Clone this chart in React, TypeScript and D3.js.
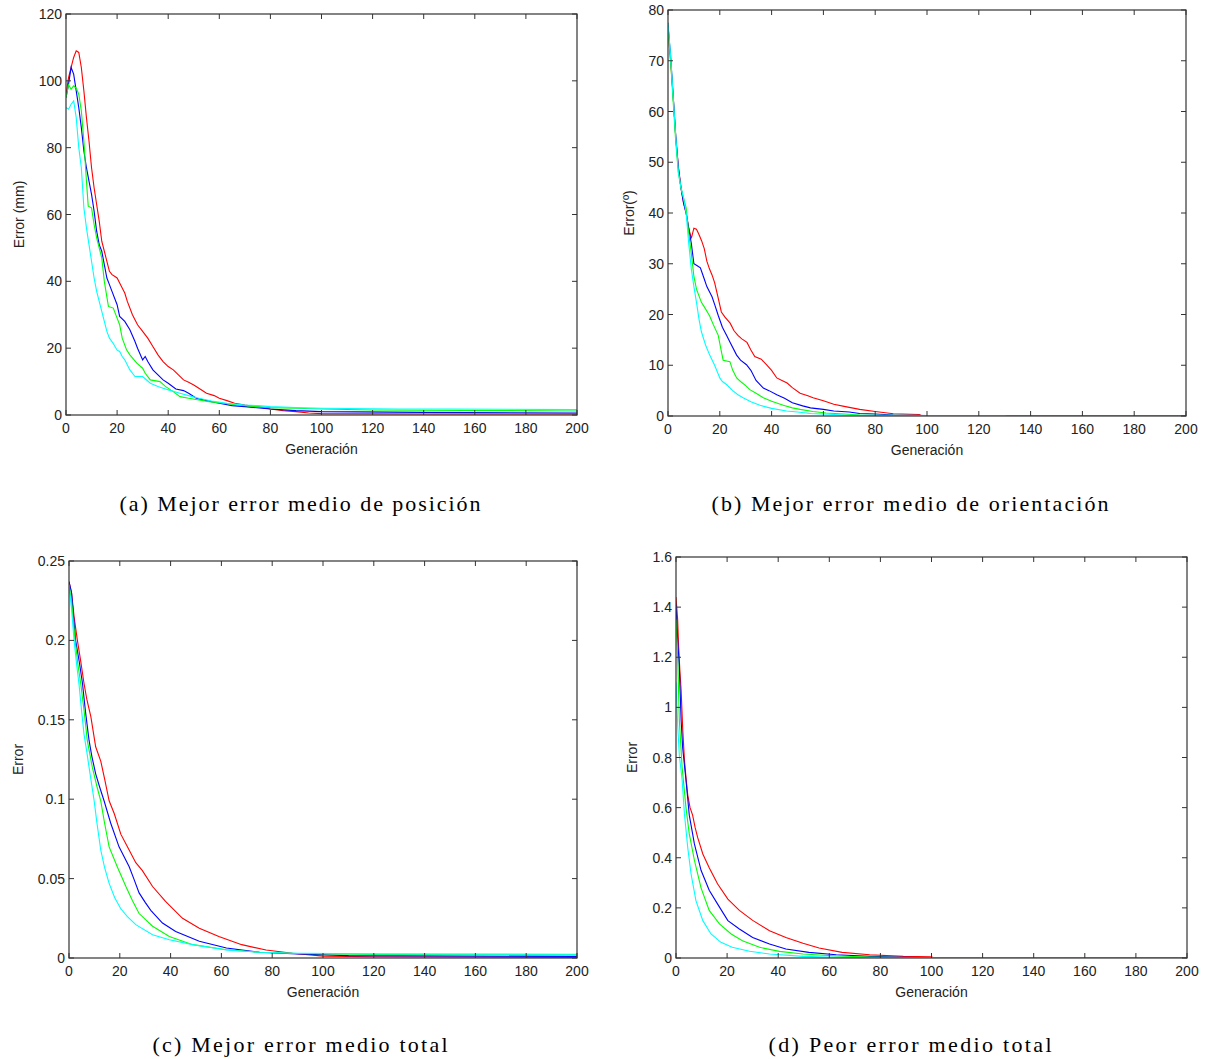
import React from "react";
import * as d3 from "d3";

type Pt = [number, number];

// x-axis ticks (generations)
const GEN_TICKS = [0, 20, 40, 60, 80, 100, 120, 140, 160, 180, 200];

// ---------- (a) Mejor error medio de posición ----------
const A_TICKS = [0, 20, 40, 60, 80, 100, 120];
const aRed: Pt[] = [[0,96],[1,101],[2,104],[3,107],[4,109],[5,108.5],[6,104],[7,97],[8,89],[9,82],[10,74],[11,68],[12,63],[13,58],[14,52],[15,49],[16,46],[17,43],[18,42],[19,41.5],[20,41],[22,38],[23,36.5],[24,34],[26,30],[28,27],[30,25],[32,23],[34,20.5],[36,18],[38,16],[40,14.5],[42,13.5],[44,12],[46,10.5],[48,9.8],[50,9],[52,8],[55,6.5],[58,5.8],[60,5],[63,4.3],[66,3.5],[70,3],[75,2.5],[80,1.8],[85,1.3],[90,1],[95,0.6],[100,0.4],[140,0.3],[200,0.3]];
const aBlue: Pt[] = [[0,95],[1,99],[2,104],[3,102],[4,97],[5,92],[6,86],[7,79],[8,74],[9,70],[10,66],[11,61],[12,55],[13,51],[14,49],[15,45],[16,41],[17,39],[18,37],[20,33],[21,29.5],[23,28],[25,25.5],[27,22],[28,20],[30,16.5],[31,17.5],[32,16],[34,13.5],[36,12],[38,10.5],[40,9.5],[43,7.8],[46,7.3],[48,6.5],[51,5],[55,4.3],[60,3.5],[65,2.8],[70,2.5],[80,1.8],[90,1.3],[100,1],[140,0.8],[200,0.6]];
const aGreen: Pt[] = [[0,95],[1,98.8],[2,97.5],[3,98.5],[4,97.8],[5,96],[6,91],[7,82],[8,70],[8.7,62.5],[10,62],[11,57],[12,53],[14,47],[15,40],[16.6,32.5],[18.5,32],[20,29],[21,27],[22,23],[23.7,19.5],[25,18],[27.7,15.5],[30,14],[31,12.5],[33,10.5],[36.8,10],[39,8.5],[42,7],[44.6,5.5],[48,5],[52,4.5],[56,4],[61.5,3.5],[67,3],[74.5,2.5],[80,2.2],[90,2],[100,1.8],[120,1.5],[200,1.2]];
const aCyan: Pt[] = [[0,92],[1,91.5],[2,93],[3,94],[4,89],[5,80],[6,74],[7,62],[8,56],[9,51],[10,46],[11,41],[12,37],[13,34],[14,31],[15,28],[16,25],[17,23],[18.5,21.4],[20,19.4],[21,19],[22,17.5],[23,16.5],[25,13.5],[27,11.5],[30,11.5],[33,9.5],[36,8.5],[38,8],[41,7.3],[44.6,6.5],[48,5.8],[52,5],[57,4.2],[63,3.5],[70,3],[75,2.8],[80,2.5],[90,2.2],[100,2],[130,1.8],[150,1.8],[200,1.6]];

// ---------- (b) Mejor error medio de orientación ----------
const B_TICKS = [0, 10, 20, 30, 40, 50, 60, 70, 80];
const bRed: Pt[] = [[0,77.5],[0.5,73],[1,70],[2,63],[3,55],[4,49],[5,45],[6,42],[7,40],[8,37],[9,35],[10,37],[11,36.8],[12,35.7],[13,34.5],[14,33],[15,30.5],[16,29],[17,27.8],[18,26.3],[19.5,23],[20.6,20.5],[22,19.5],[24,18.3],[25.5,16.8],[27,15.9],[28.5,15.2],[30.5,14.5],[32,13],[33.5,11.7],[36,11.2],[38,10.1],[40,9],[42,7.5],[44,7],[46,6.5],[48,5.6],[51,4.5],[54,4],[56,3.6],[60,3],[64,2.3],[68,1.9],[74,1.3],[80,0.9],[87,0.45],[97,0.3],[98,0.05],[200,0.05]];
const bBlue: Pt[] = [[0,77],[1,71],[2,63],[3,55],[4,49],[5,45],[6,42],[7,40],[8,37],[9,34],[10,30],[11,29.7],[12.5,29.2],[14,27],[15,25.5],[17,23.5],[18,22],[19.4,19.8],[21,17.5],[22.6,15.9],[24,14.5],[26.5,12],[28,11],[30.3,10.1],[32,9],[34,7],[36.8,5.5],[39,5],[42,4.2],[45,3.5],[48,2.6],[52,2],[55,1.6],[60,1.3],[64,1],[70,0.8],[74,0.5],[80,0.4],[87,0.2],[100,0.1],[200,0.05]];
const bGreen: Pt[] = [[0,76],[1,70],[2,62],[3,54],[4,48],[5,45],[6,43],[7,41],[8,36],[9,32],[10,27.5],[11,25],[12.9,22.4],[14,21.5],[16,19.8],[17.5,18],[19.4,15.9],[20.5,13],[21.3,11],[23.9,10.7],[25,9],[26.5,7.5],[28,6.8],[30,6],[31.6,5.2],[34,4.5],[36.8,3.6],[40,2.9],[44.5,2.1],[48,1.6],[51,1.3],[56,0.9],[61,0.6],[68,0.4],[74,0.2],[80,0.15],[100,0.1],[125,0.1],[126,0.02],[200,0.02]];
const bCyan: Pt[] = [[0,77.5],[1,71],[2,63],[3,55],[4,48],[5,45],[6,43],[7,40],[8,34],[9,29],[10,25.5],[11,22.4],[12,19],[12.9,16.6],[14.5,14],[16.1,12],[18,10],[20,7.5],[21,6.8],[22.6,6.2],[25,5],[27,4.2],[29,3.6],[32,2.8],[35.5,2.1],[40,1.5],[45.8,1],[50,0.8],[55,0.5],[62,0.35],[68,0.2],[80,0.15],[100,0.1],[130,0.1],[131,0],[200,0]];

// ---------- (c) Mejor error medio total ----------
const C_TICKS = [0, 0.05, 0.1, 0.15, 0.2, 0.25];
const cRed: Pt[] = [[0,0.237],[1,0.23],[2,0.215],[3.3,0.2],[4.5,0.188],[5.9,0.173],[7,0.163],[8.6,0.152],[10.5,0.133],[12.5,0.124],[14,0.113],[15.8,0.099],[17.8,0.091],[20.4,0.078],[23,0.07],[26.3,0.06],[28.9,0.055],[32.9,0.045],[38,0.0356],[44.7,0.025],[51.3,0.0188],[59,0.0136],[68,0.0084],[77.6,0.005],[88,0.003],[100,0.0012],[120,0.0008],[200,0.0004]];
const cBlue: Pt[] = [[0,0.237],[1,0.23],[2.6,0.2],[4,0.187],[5.3,0.173],[6.5,0.155],[7.9,0.137],[9,0.127],[10.5,0.116],[12,0.108],[13.8,0.099],[16.4,0.085],[19.7,0.07],[23.7,0.0575],[25.5,0.05],[27.6,0.041],[30,0.035],[32.2,0.03],[36.8,0.022],[42,0.0167],[51.3,0.0105],[62,0.0063],[75,0.0036],[90,0.0025],[110,0.0015],[200,0.001]];
const cGreen: Pt[] = [[0,0.235],[1,0.225],[2.4,0.2],[3.5,0.185],[4.6,0.173],[6,0.155],[7.2,0.137],[9.2,0.12],[11,0.108],[12.5,0.099],[14,0.085],[15.8,0.07],[19,0.0575],[22.4,0.045],[25,0.036],[27.6,0.028],[32.9,0.02],[39.5,0.0136],[48.7,0.0084],[62,0.0052],[75,0.0036],[90,0.0028],[120,0.0022],[200,0.002]];
const cCyan: Pt[] = [[0,0.235],[1,0.22],[2,0.2],[3,0.185],[3.9,0.173],[5,0.155],[5.9,0.141],[7,0.13],[7.9,0.12],[9.9,0.099],[11,0.085],[12.5,0.068],[14,0.057],[15.8,0.047],[18,0.038],[20.4,0.031],[23,0.026],[26.3,0.021],[32.9,0.0146],[39.5,0.0115],[48.7,0.0084],[62,0.005],[75,0.0036],[90,0.003],[120,0.0026],[200,0.0024]];

// ---------- (d) Peor error medio total ----------
const D_TICKS = [0, 0.2, 0.4, 0.6, 0.8, 1, 1.2, 1.4, 1.6];
const dRed: Pt[] = [[0,1.44],[0.65,1.35],[1,1.25],[1.5,1.15],[2,1.07],[2.6,0.92],[3.3,0.79],[4,0.71],[4.6,0.65],[5.5,0.6],[6.5,0.57],[7.5,0.52],[8.5,0.48],[10.5,0.415],[13,0.36],[16.3,0.295],[20.3,0.235],[24.8,0.19],[30,0.15],[36.6,0.109],[43,0.082],[49.7,0.0585],[56,0.04],[65,0.0226],[75.8,0.013],[89,0.0066],[100,0.005],[101,0],[200,0]];
const dBlue: Pt[] = [[0,1.41],[0.65,1.27],[1.3,1.16],[2,0.95],[2.6,0.84],[3.9,0.71],[5.2,0.57],[7.2,0.455],[9.8,0.35],[13,0.27],[16.3,0.215],[20.3,0.149],[24.8,0.116],[30,0.082],[36.6,0.056],[43,0.036],[52,0.0226],[62.7,0.013],[76,0.0066],[89,0.003],[100,0.001],[200,0]];
const dGreen: Pt[] = [[0,1.35],[0.65,1.2],[1.3,0.95],[2.4,0.76],[3.9,0.6],[5.2,0.495],[7.2,0.39],[9.8,0.28],[13,0.19],[17,0.136],[21.6,0.096],[26,0.069],[32.7,0.0426],[40.5,0.0266],[49.7,0.016],[62.7,0.008],[76,0.004],[90,0.002],[200,0]];
const dCyan: Pt[] = [[0,1.1],[0.65,0.93],[1.3,0.81],[2.4,0.71],[3.3,0.575],[4.6,0.44],[5.9,0.335],[7.8,0.229],[10.5,0.149],[13.7,0.096],[17.6,0.0625],[22,0.0426],[28.8,0.0266],[36.6,0.016],[49.7,0.0066],[62.7,0.003],[80,0.001],[200,0]];

const SERIES_COLORS = ["#ff0000", "#0000ff", "#00ff00", "#00ffff"];
const X_LABEL = "Generación";

interface PanelCfg {
  id: string;
  left: number; right: number; top: number; bottom: number;
  yMax: number; yTicks: number[]; yLabel: string; yLabelX: number;
  series: Pt[][];
  caption: string; captionX: number; captionY: number; captionW: number;
}

const PANELS: PanelCfg[] = [
  { id: "a", left: 66, right: 577, top: 14, bottom: 415, yMax: 120, yTicks: A_TICKS, yLabel: "Error (mm)", yLabelX: 24,
    series: [aRed, aBlue, aGreen, aCyan], caption: "(a) Mejor error medio de posición", captionX: 300, captionY: 511, captionW: 361 },
  { id: "b", left: 668, right: 1186, top: 10, bottom: 416, yMax: 80, yTicks: B_TICKS, yLabel: "Error(º)", yLabelX: 634,
    series: [bRed, bBlue, bGreen, bCyan], caption: "(b) Mejor error medio de orientación", captionX: 910, captionY: 511, captionW: 397 },
  { id: "c", left: 69, right: 577, top: 561, bottom: 958, yMax: 0.25, yTicks: C_TICKS, yLabel: "Error", yLabelX: 23,
    series: [cRed, cBlue, cGreen, cCyan], caption: "(c) Mejor error medio total", captionX: 300, captionY: 1052, captionW: 295 },
  { id: "d", left: 676, right: 1187, top: 557, bottom: 958, yMax: 1.6, yTicks: D_TICKS, yLabel: "Error", yLabelX: 637,
    series: [dRed, dBlue, dGreen, dCyan], caption: "(d) Peor error medio total", captionX: 910, captionY: 1052, captionW: 283 },
];

const TICK_FONT = "'Liberation Sans', Arial, sans-serif";
const AXIS_COLOR = "#333";

function Panel({ p }: { p: PanelCfg }) {
  const x = d3.scaleLinear().domain([0, 200]).range([p.left, p.right]);
  const y = d3.scaleLinear().domain([0, p.yMax]).range([p.bottom, p.top]);
  const line = d3.line<Pt>().x((d) => x(d[0])).y((d) => y(d[1]));
  const tl = 5;
  const fmt = (v: number) => String(+v.toFixed(3));
  const cx = (p.left + p.right) / 2;
  const cy = (p.top + p.bottom) / 2;
  return (
    <g>
      <defs>
        <clipPath id={"clip-" + p.id}>
          <rect x={p.left} y={p.top - 1} width={p.right - p.left} height={p.bottom - p.top + 1} />
        </clipPath>
      </defs>
      <rect x={p.left} y={p.top} width={p.right - p.left} height={p.bottom - p.top} fill="#fff" />
      <g clipPath={`url(#clip-${p.id})`}>
        {p.series.map((s, i) => (
          <path key={i} d={line(s) || ""} fill="none" stroke={SERIES_COLORS[i]} strokeWidth={1.1} />
        ))}
      </g>
      <rect x={p.left} y={p.top} width={p.right - p.left} height={p.bottom - p.top} fill="none" stroke={AXIS_COLOR} strokeWidth={1.2} />
      {GEN_TICKS.map((t) => (
        <g key={"x" + t}>
          <line x1={x(t)} x2={x(t)} y1={p.bottom} y2={p.bottom - tl} stroke={AXIS_COLOR} />
          <line x1={x(t)} x2={x(t)} y1={p.top} y2={p.top + tl} stroke={AXIS_COLOR} />
          <text x={x(t)} y={p.bottom + 18} textAnchor="middle" fontFamily={TICK_FONT} fontSize={14} fill="#222">{t}</text>
        </g>
      ))}
      {p.yTicks.map((t) => (
        <g key={"y" + t}>
          <line x1={p.left} x2={p.left + tl} y1={y(t)} y2={y(t)} stroke={AXIS_COLOR} />
          <line x1={p.right} x2={p.right - tl} y1={y(t)} y2={y(t)} stroke={AXIS_COLOR} />
          <text x={p.left - 4} y={y(t) + 5} textAnchor="end" fontFamily={TICK_FONT} fontSize={14} fill="#222">{fmt(t)}</text>
        </g>
      ))}
      <text x={cx} y={p.bottom + 39} textAnchor="middle" fontFamily={TICK_FONT} fontSize={14} fill="#222">{X_LABEL}</text>
      <text transform={`translate(${p.yLabelX},${cy}) rotate(-90)`} textAnchor="middle" fontFamily={TICK_FONT} fontSize={14} fill="#222">{p.yLabel}</text>
      <text x={p.captionX} y={p.captionY} textAnchor="middle" fontFamily="'Liberation Serif', 'DejaVu Serif', serif" fontSize={22} fill="#000"
        textLength={p.captionW} lengthAdjust="spacing">{p.caption}</text>
    </g>
  );
}

export default function App() {
  return (
    <svg width={1207} height={1059} style={{ position: "absolute", left: 0, top: 0, background: "#fff" }}>
      <rect x={0} y={0} width={1207} height={1059} fill="#fff" />
      {PANELS.map((p) => <Panel key={p.id} p={p} />)}
    </svg>
  );
}
